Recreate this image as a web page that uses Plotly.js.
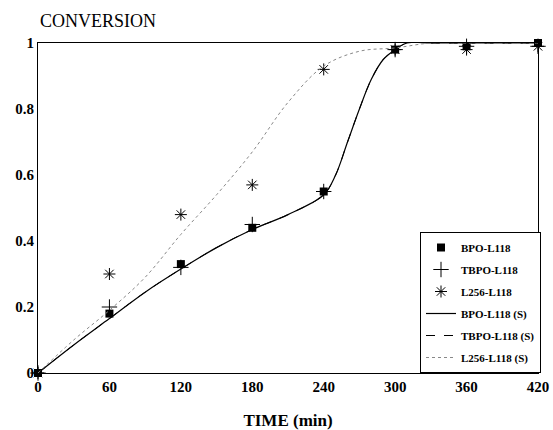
<!DOCTYPE html>
<html>
<head>
<meta charset="utf-8">
<script src="https://cdn.plot.ly/plotly-3.0.1.min.js"></script>
<style>html,body{margin:0;padding:0;background:#fff;}#chart{width:553px;height:430px;}</style>
</head>
<body>
<div id="chart"></div>
<script>
// Experimental data
var timeExp = [0, 60, 120, 180, 240, 300, 360, 420];
var bpo = [0, 0.18, 0.33, 0.44, 0.55, 0.98, 0.99, 1.0];
var tbpo = [0, 0.20, 0.32, 0.45, 0.55, 0.98, 0.99, 0.99];
var l256 = [0, 0.30, 0.48, 0.57, 0.92, 0.98, 0.98, 0.99];

// Simulated curves (S)
var timeSimB = [0, 30, 60, 90, 120, 150, 180, 210, 240, 250, 260, 270, 280, 290, 300, 310, 330, 360, 420];
var bpoS = [0, 0.085, 0.165, 0.245, 0.315, 0.38, 0.435, 0.48, 0.54, 0.6, 0.7, 0.8, 0.89, 0.95, 0.98, 1.0, 1.0, 1.0, 1.0];
var tbpoS = [0, 0.085, 0.165, 0.245, 0.315, 0.38, 0.435, 0.48, 0.54, 0.6, 0.7, 0.8, 0.89, 0.95, 0.98, 1.0, 1.0, 1.0, 1.0];
var timeSimL = [0, 30, 60, 90, 120, 150, 180, 210, 240, 270, 300, 330, 360, 420];
var l256S = [0, 0.10, 0.19, 0.29, 0.42, 0.54, 0.67, 0.82, 0.93, 0.975, 0.985, 1.0, 1.0, 1.0];

var xTicks = [0, 60, 120, 180, 240, 300, 360, 420];
var yTicks = [0, 0.2, 0.4, 0.6, 0.8, 1];
var yTickText = ['0', '0.2', '0.4', '0.6', '0.8', '1'];

var serif = 'Liberation Serif, Times New Roman, serif';

var traces = [
  {x: timeExp, y: bpo, mode: 'markers', name: 'BPO-L118', legendgroup: 'a', cliponaxis: false,
   marker: {symbol: 'square', size: 8, color: '#000'}},
  {x: timeExp, y: tbpo, mode: 'markers', name: 'TBPO-L118', legendgroup: 'b', cliponaxis: false,
   marker: {symbol: 'cross-thin-open', size: 11, color: '#000', line: {width: 1, color: '#000'}}},
  {x: timeExp, y: l256, mode: 'markers', name: 'L256-L118', legendgroup: 'c', cliponaxis: false,
   marker: {symbol: 'asterisk-open', size: 10, color: '#000', line: {width: 1, color: '#000'}}},
  {x: timeSimB, y: bpoS, mode: 'lines', name: 'BPO-L118 (S)', legendgroup: 'd', cliponaxis: false,
   line: {shape: 'spline', color: '#000', width: 1.2}},
  {x: timeSimB, y: tbpoS, mode: 'lines', name: 'TBPO-L118 (S)', legendgroup: 'e', cliponaxis: false,
   line: {shape: 'spline', color: '#000', width: 1, dash: 'dash'}},
  {x: timeSimL, y: l256S, mode: 'lines', name: 'L256-L118 (S)', legendgroup: 'f', cliponaxis: false,
   line: {shape: 'spline', color: '#888', width: 1, dash: 'dot'}}
];

var layout = {
  width: 553, height: 430,
  margin: {l: 38, r: 13, t: 43, b: 57},
  paper_bgcolor: '#fff', plot_bgcolor: '#fff',
  showlegend: true,
  font: {family: serif, color: '#000'},
  xaxis: {
    range: [0, 420], tickvals: xTicks, ticktext: xTicks.map(String),
    showgrid: false, zeroline: false, showline: true, mirror: true,
    linecolor: '#000', linewidth: 1, ticks: '',
    tickfont: {family: serif, size: 15, weight: 'bold', color: '#000'},
    title: {text: 'TIME (min)', font: {family: serif, size: 17, weight: 'bold', color: '#000'}, standoff: 22}
  },
  yaxis: {
    range: [0, 1], tickvals: yTicks, ticktext: yTickText,
    showgrid: false, zeroline: false, showline: true, mirror: true,
    linecolor: '#000', linewidth: 1, ticks: '',
    tickfont: {family: serif, size: 15, weight: 'bold', color: '#000'}
  },
  legend: {
    x: 0.764, y: 0, xanchor: 'left', yanchor: 'bottom',
    bordercolor: '#000', borderwidth: 1, bgcolor: '#fff',
    font: {family: serif, size: 11, weight: 'bold', color: '#000'},
    itemwidth: 30, tracegroupgap: 3
  },
  annotations: [{
    text: 'CONVERSION', xref: 'paper', yref: 'paper', x: 0.0, y: 1.03,
    xanchor: 'left', yanchor: 'bottom', showarrow: false,
    font: {family: serif, size: 18, color: '#000'}
  }]
};

Plotly.newPlot('chart', traces, layout, {displayModeBar: false, staticPlot: true});
</script>
</body>
</html>
